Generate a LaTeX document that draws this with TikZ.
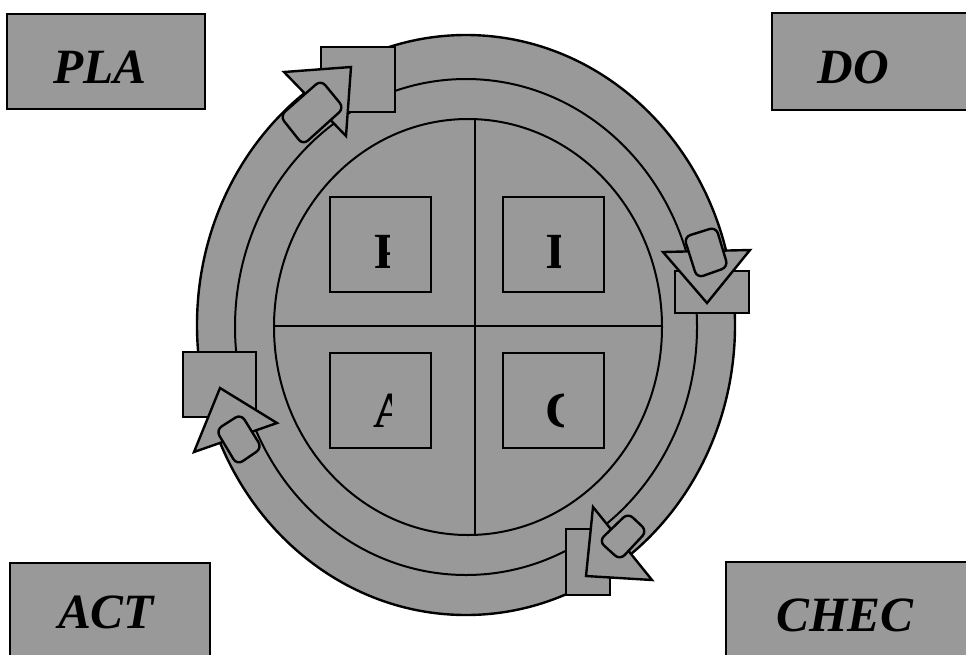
\documentclass[tikz,border=0pt]{standalone}
\usepackage{fontspec}
\setmainfont{Liberation Serif}
\usepackage{xcolor}
\usepackage{tikz}
\usetikzlibrary{positioning}

\tikzset{
  mottled/.style={fill=black!40, draw=black, line width=1.8pt},
  ringline/.style={draw=black, line width=1.5pt},
  tag/.style={font=\fontsize{37}{40}\selectfont\bfseries\itshape, inner sep=0pt, anchor=base},
  cutletter/.style={font=\fontsize{38}{40}\selectfont\bfseries, inner sep=0pt, anchor=base west},
}

\begin{document}
\begin{tikzpicture}[x=0.75pt, y=-0.75pt, line join=miter]
\useasboundingbox (0,0) rectangle (966,654);
\clip (0,0) rectangle (966,654);
% corner labels
\draw[mottled] (7,14) rectangle (205,109);
\draw[mottled] (772,13) rectangle (975,110);
\draw[mottled] (10,563) rectangle (210,665);
\draw[mottled] (726,562) rectangle (975,665);
\node[tag] (plan) at (100,83) {PLA};
\node[tag] (do) at (853,83) {DO};
\node[tag] (act) at (106,628) {ACT};
\node[tag] (check) at (845,631) {CHEC};
% the wheel
\draw[mottled] (466,325) ellipse [x radius=269, y radius=290];
\draw[ringline] (466,327) ellipse [x radius=231, y radius=248];
\draw[ringline] (468,327) ellipse [x radius=194, y radius=208];
\draw[ringline, line width=1.2pt] (475,119) -- (475,535);
\draw[ringline, line width=1.2pt] (274,326) -- (662,326);
\foreach \x/\y in {330/197, 503/197, 330/353, 503/353}
  \draw[mottled] (\x,\y) rectangle ++(101,95);
% letters cut off at the right
\begin{scope}
\clip (335,200) rectangle (389,290);
\node[cutletter] (planLetter) at (374,268) {P};
\end{scope}
\begin{scope}
\clip (508,200) rectangle (560,290);
\node[cutletter] (doLetter) at (546,268) {D};
\end{scope}
\begin{scope}
\clip (335,356) rectangle (391,446);
\node[cutletter] (actLetter) at (373,427) {A};
\end{scope}
\begin{scope}
\clip (508,356) rectangle (563,446);
\node[cutletter] (checkLetter) at (545,427) {C};
\end{scope}
% arrow pieces on the ring
\draw[mottled] (321,47) rectangle (395,112);
\draw[mottled] (284,72) -- (351,67) -- (346,136) -- cycle;
\draw[mottled, rounded corners=5pt] (280,116) -- (321,80) -- (344,108) -- (303,145) -- cycle;
\draw[mottled] (675,271) rectangle (749,313);
\draw[mottled] (663,252) -- (750,250) -- (707,303) -- cycle;
\draw[mottled, rounded corners=5pt] (684,237) -- (716,227) -- (728,267) -- (697,278) -- cycle;
\draw[mottled] (566,529) rectangle (610,595);
\draw[mottled] (593,507) -- (652,580) -- (586,576) -- cycle;
\draw[mottled, rounded corners=5pt] (599,541) -- (628,513) -- (647,531) -- (620,560) -- cycle;
\draw[mottled] (183,352) rectangle (256,417);
\draw[mottled] (220,388) -- (277,423) -- (194,452) -- cycle;
\draw[mottled, rounded corners=5pt] (216,430) -- (241,414) -- (262,448) -- (237,465) -- cycle;
\end{tikzpicture}
\end{document}
